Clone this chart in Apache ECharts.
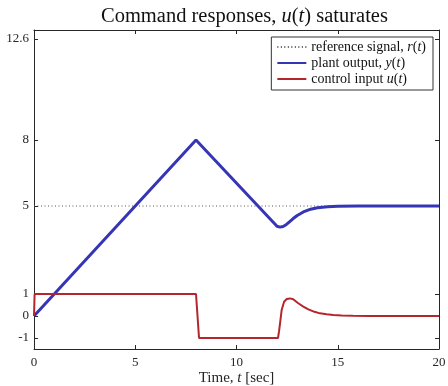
<!DOCTYPE html>
<html>
<head>
<meta charset="utf-8">
<script src="https://cdn.jsdelivr.net/npm/echarts@6/dist/echarts.min.js"></script>
<style>
  html, body { margin: 0; padding: 0; background: #fff; }
  #chart { width: 448px; height: 386px; }
</style>
</head>
<body>
<div id="chart"></div>
<script>
// Reference signal r(t)
const refTime = [0, 20];
const refVals = [5, 5];

// Plant output y(t): ramp up, ramp down, then settling to the command
const yTime = [0, 8.0, 12.0, 12.15, 12.3, 12.45, 12.6, 12.8, 13.0, 13.3, 13.6, 14.0, 14.5, 15.0, 16.0, 20.0];
const yVals = [0, 8.0, 4.08, 4.04, 4.07, 4.15, 4.27, 4.43, 4.57, 4.73, 4.84, 4.92, 4.97, 4.99, 5.0, 5.0];

// Control input u(t): saturated at +1 / -1, then transient back to 0
const uTime = [0, 0.03, 8.0, 8.15, 12.05, 12.1, 12.15, 12.23, 12.35, 12.48, 12.64, 12.8, 13.05, 13.3, 13.55, 13.85, 14.12, 14.45, 14.78, 15.2, 15.75, 16.5, 20];
const uVals = [0, 1, 1, -1, -1, -0.7, -0.33, 0.27, 0.65, 0.77, 0.80, 0.76, 0.58, 0.43, 0.30, 0.19, 0.12, 0.08, 0.05, 0.025, 0.01, 0.0, 0.0];

// Axis ticks
const xTicks = [0, 5, 10, 15, 20];
const yTicks = [-1, 0, 1, 5, 8, 12.6];

const pairs = (xs, ys) => xs.map((x, i) => [x, ys[i]]);

const serif = 'Liberation Serif';
const ink = '#262626';
const italic = { fontStyle: 'italic', fontFamily: serif };

const chart = echarts.init(document.getElementById('chart'), null, { renderer: 'canvas' });

const frameLine = { show: true, onZero: false, lineStyle: { color: ink, width: 1 } };
const tickIn = { show: true, inside: true, length: 4, lineStyle: { color: ink, width: 1 } };

chart.setOption({
  animation: false,
  backgroundColor: '#fff',
  title: {
    text: 'Command responses, {i|u}({i|t}) saturates',
    left: 96,
    top: 1,
    textStyle: {
      fontFamily: serif, fontSize: 20.5, fontWeight: 'normal', color: '#111',
      rich: { i: Object.assign({ fontSize: 20.5, color: '#111' }, italic) }
    }
  },
  grid: { left: 34, right: 9, top: 30, bottom: 37, containLabel: false, outerBoundsMode: 'none' },
  legend: {
    orient: 'vertical',
    right: 15,
    top: 37,
    itemWidth: 29,
    itemHeight: 14,
    itemGap: 2,
    padding: [3, 7, 4, 5],
    borderColor: '#333',
    borderWidth: 1,
    borderRadius: 0,
    backgroundColor: '#fff',
    align: 'left',
    itemStyle: { opacity: 0 },
    textStyle: {
      fontFamily: serif, fontSize: 14, color: '#111', lineHeight: 14,
      rich: { i: Object.assign({ fontSize: 14, color: '#111', lineHeight: 14 }, italic) }
    },
    formatter: function (name) {
      if (name === 'ref') return 'reference signal, {i|r}({i|t})';
      if (name === 'y') return 'plant output, {i|y}({i|t})';
      return 'control input {i|u}({i|t})';
    },
    data: ['ref', 'y', 'u']
  },
  xAxis: [
    {
      type: 'value', min: 0, max: 20, interval: 5, position: 'bottom',
      axisLine: frameLine, axisTick: tickIn, splitLine: { show: false },
      axisLabel: { fontFamily: serif, fontSize: 13, color: ink, margin: 7 },
      name: 'Time, {i|t} [sec]',
      nameLocation: 'middle', nameGap: 22, nameMoveOverlap: false,
      nameTextStyle: {
        fontFamily: serif, fontSize: 15, color: ink,
        rich: { i: Object.assign({ fontSize: 15, color: ink }, italic) }
      }
    },
    {
      type: 'value', min: 0, max: 20, interval: 5, position: 'top',
      axisLine: frameLine, axisTick: tickIn, splitLine: { show: false },
      axisLabel: { show: false }
    }
  ],
  yAxis: [
    {
      type: 'value', min: -1.5, max: 13, position: 'left',
      axisLine: frameLine,
      axisTick: Object.assign({ customValues: yTicks }, tickIn),
      splitLine: { show: false },
      axisLabel: { customValues: yTicks, fontFamily: serif, fontSize: 13, color: ink, margin: 5 }
    },
    {
      type: 'value', min: -1.5, max: 13, position: 'right',
      axisLine: frameLine,
      axisTick: Object.assign({ customValues: yTicks }, tickIn),
      splitLine: { show: false },
      axisLabel: { show: false }
    }
  ],
  series: [
    {
      name: 'ref', type: 'line', data: pairs(refTime, refVals),
      showSymbol: false, symbol: 'none',
      lineStyle: { color: '#555', width: 1, type: [1, 2.5] },
      itemStyle: { color: '#555' }, z: 2
    },
    {
      name: 'y', type: 'line', data: pairs(yTime, yVals),
      showSymbol: false, symbol: 'none', smooth: false,
      lineStyle: { color: '#3535B5', width: 3 },
      itemStyle: { color: '#3535B5' }, z: 3
    },
    {
      name: 'u', type: 'line', data: pairs(uTime, uVals),
      showSymbol: false, symbol: 'none', smooth: false,
      lineStyle: { color: '#B5262C', width: 2 },
      itemStyle: { color: '#B5262C' }, z: 4
    }
  ]
});
</script>
</body>
</html>
